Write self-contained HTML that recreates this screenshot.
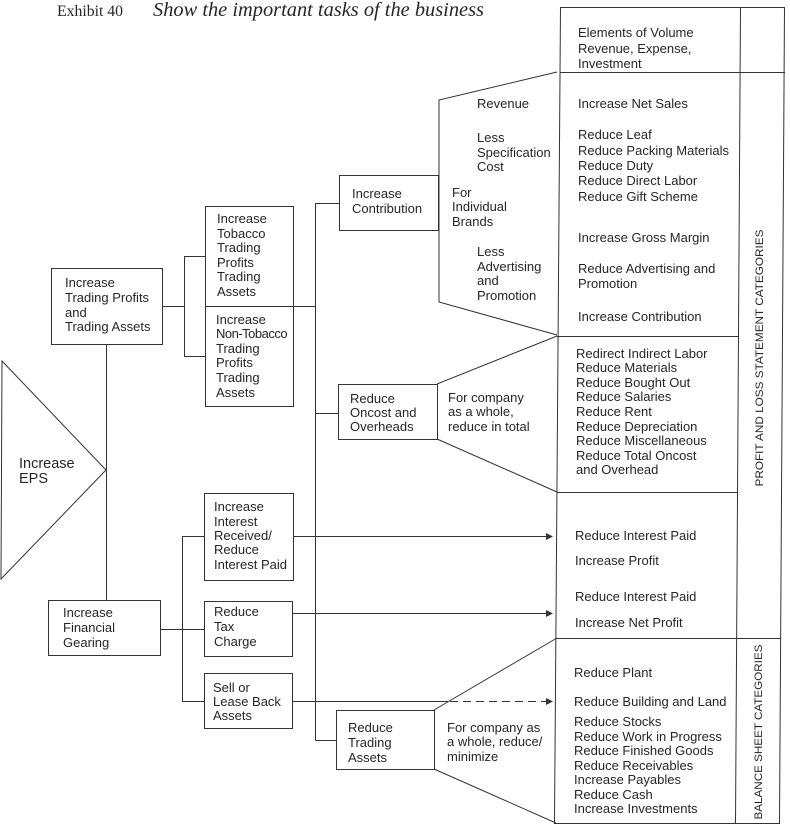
<!DOCTYPE html>
<html>
<head>
<meta charset="utf-8">
<style>
html,body{margin:0;padding:0;background:#fff;}
svg{display:block;}
text{font-family:"Liberation Sans",Arial,sans-serif;font-size:13px;fill:#262626;}
.t{font-family:"Liberation Serif",serif;}
</style>
</head>
<body>
<svg width="790" height="829" viewBox="0 0 790 829" xmlns="http://www.w3.org/2000/svg">
<g stroke="#333" stroke-width="1" fill="none">
  <!-- left structure -->
  <rect x="51.5" y="268.5" width="111" height="76"/>
  <line x1="106.5" y1="344" x2="106.5" y2="600"/>
  <polygon points="2,361 106,470 1,579"/>
  <rect x="48.5" y="600.5" width="112" height="55"/>
  <polyline points="162,306.5 184.5,306.5"/>
  <polyline points="205,256.5 184.5,256.5 184.5,356.5 205,356.5"/>
  <rect x="205.5" y="206.5" width="88" height="100"/>
  <rect x="205.5" y="306.5" width="88" height="100"/>
  <line x1="294" y1="306.5" x2="316" y2="306.5"/>
  <line x1="315.5" y1="203" x2="315.5" y2="740.5"/>
  <line x1="315.5" y1="203.5" x2="339" y2="203.5"/>
  <rect x="339.5" y="175.5" width="99" height="55"/>
  <line x1="315.5" y1="413.5" x2="338" y2="413.5"/>
  <rect x="338.5" y="384.5" width="99" height="55"/>
  <line x1="315.5" y1="740.5" x2="336" y2="740.5"/>
  <rect x="336.5" y="710.5" width="98" height="59"/>
  <!-- financial gearing bracket -->
  <line x1="160" y1="629.5" x2="204" y2="629.5"/>
  <polyline points="204,536.5 182.5,536.5 182.5,701.5 204,701.5"/>
  <rect x="204.5" y="493.5" width="89" height="87"/>
  <rect x="204.5" y="601.5" width="88" height="55"/>
  <rect x="204.5" y="673.5" width="88" height="55"/>
  <!-- arrows -->
  <line x1="293" y1="536.5" x2="547" y2="536.5"/>
  <line x1="292" y1="613.5" x2="547" y2="613.5"/>
  <line x1="292" y1="701.5" x2="448" y2="701.5"/>
  <line x1="450" y1="701.5" x2="547" y2="701.5" stroke-dasharray="8,5"/>
  <!-- trapezoids -->
  <polyline points="557,72 439,100 439,302 557,335"/>
  <polyline points="557,336 437,384"/>
  <polyline points="437,439 557,492"/>
  <polyline points="557,638 434,710"/>
  <polyline points="434,769 556,823"/>
  <!-- right column (slightly skewed like scan) -->
  <line x1="561" y1="7.5" x2="785" y2="7.5"/>
  <line x1="560.5" y1="7" x2="554.5" y2="823"/>
  <line x1="740.5" y1="7" x2="735.5" y2="823"/>
  <line x1="784.5" y1="7" x2="779.5" y2="823"/>
  <line x1="554" y1="823.5" x2="780" y2="823.5"/>
  <line x1="560" y1="72.5" x2="785" y2="72.5"/>
  <line x1="557" y1="336.5" x2="739" y2="336.5"/>
  <line x1="557" y1="492.5" x2="738" y2="492.5"/>
  <line x1="556" y1="638.5" x2="781" y2="638.5"/>
</g>
<g fill="#333">
  <polygon points="546,533 553,536.5 546,540"/>
  <polygon points="546,610 553,613.5 546,617"/>
  <polygon points="546,698 553,701.5 546,705"/>
</g>

<!-- title -->
<text class="t" x="57" y="16" style="font-size:16px" textLength="66" lengthAdjust="spacingAndGlyphs">Exhibit 40</text>
<text class="t" x="153" y="16" style="font-size:20px;font-style:italic" textLength="331" lengthAdjust="spacingAndGlyphs">Show the important tasks of the business</text>

<!-- EPS -->
<text x="19" y="468" style="font-size:14.5px">Increase</text>
<text x="19" y="483" style="font-size:14.5px">EPS</text>

<!-- trading profits -->
<text x="65" y="287">Increase</text>
<text x="65" y="302">Trading Profits</text>
<text x="65" y="317">and</text>
<text x="65" y="331">Trading Assets</text>

<text x="217" y="223">Increase</text>
<text x="217" y="238">Tobacco</text>
<text x="217" y="252">Trading</text>
<text x="217" y="267">Profits</text>
<text x="217" y="281">Trading</text>
<text x="217" y="296">Assets</text>

<text x="216" y="324">Increase</text>
<text x="216" y="338" style="letter-spacing:-0.5px">Non-Tobacco</text>
<text x="216" y="353">Trading</text>
<text x="216" y="367">Profits</text>
<text x="216" y="382">Trading</text>
<text x="216" y="397">Assets</text>

<!-- financial gearing -->
<text x="63" y="617">Increase</text>
<text x="63" y="632">Financial</text>
<text x="63" y="647">Gearing</text>

<text x="214" y="511">Increase</text>
<text x="214" y="526">Interest</text>
<text x="214" y="540">Received/</text>
<text x="214" y="554">Reduce</text>
<text x="214" y="569">Interest Paid</text>

<text x="214" y="616">Reduce</text>
<text x="214" y="631">Tax</text>
<text x="214" y="646">Charge</text>

<text x="213" y="692">Sell or</text>
<text x="213" y="706">Lease Back</text>
<text x="213" y="720">Assets</text>

<!-- level 3 boxes -->
<text x="352" y="198">Increase</text>
<text x="352" y="213">Contribution</text>

<text x="350" y="403">Reduce</text>
<text x="350" y="417">Oncost and</text>
<text x="350" y="431">Overheads</text>

<text x="348" y="732">Reduce</text>
<text x="348" y="747">Trading</text>
<text x="348" y="762">Assets</text>

<!-- trapezoid texts -->
<text x="477" y="108">Revenue</text>
<text x="477" y="142">Less</text>
<text x="477" y="157">Specification</text>
<text x="477" y="171">Cost</text>
<text x="452" y="197">For</text>
<text x="452" y="211">Individual</text>
<text x="452" y="226">Brands</text>
<text x="477" y="256">Less</text>
<text x="477" y="271">Advertising</text>
<text x="477" y="285">and</text>
<text x="477" y="300">Promotion</text>

<text x="448" y="402">For company</text>
<text x="448" y="416">as a whole,</text>
<text x="448" y="431">reduce in total</text>

<text x="447" y="732">For company as</text>
<text x="447" y="746">a whole, reduce/</text>
<text x="447" y="761">minimize</text>

<!-- right column -->
<text x="578" y="37">Elements of Volume</text>
<text x="578" y="53">Revenue, Expense,</text>
<text x="578" y="68">Investment</text>

<text x="578" y="108">Increase Net Sales</text>
<text x="578" y="139">Reduce Leaf</text>
<text x="578" y="155">Reduce Packing Materials</text>
<text x="578" y="170">Reduce Duty</text>
<text x="578" y="185">Reduce Direct Labor</text>
<text x="578" y="201">Reduce Gift Scheme</text>
<text x="578" y="242">Increase Gross Margin</text>
<text x="578" y="273">Reduce Advertising and</text>
<text x="578" y="288">Promotion</text>
<text x="578" y="321">Increase Contribution</text>

<text x="576" y="358">Redirect Indirect Labor</text>
<text x="576" y="372">Reduce Materials</text>
<text x="576" y="387">Reduce Bought Out</text>
<text x="576" y="401">Reduce Salaries</text>
<text x="576" y="416">Reduce Rent</text>
<text x="576" y="431">Reduce Depreciation</text>
<text x="576" y="445">Reduce Miscellaneous</text>
<text x="576" y="460">Reduce Total Oncost</text>
<text x="576" y="474">and Overhead</text>

<text x="575" y="540">Reduce Interest Paid</text>
<text x="575" y="565">Increase Profit</text>
<text x="575" y="601">Reduce Interest Paid</text>
<text x="575" y="627">Increase Net Profit</text>

<text x="574" y="677">Reduce Plant</text>
<text x="574" y="706">Reduce Building and Land</text>
<text x="574" y="726">Reduce Stocks</text>
<text x="574" y="741">Reduce Work in Progress</text>
<text x="574" y="755">Reduce Finished Goods</text>
<text x="574" y="770">Reduce Receivables</text>
<text x="574" y="784">Increase Payables</text>
<text x="574" y="799">Reduce Cash</text>
<text x="574" y="813">Increase Investments</text>

<!-- vertical category labels -->
<text transform="translate(763,358) rotate(-90)" text-anchor="middle" style="font-size:11px" textLength="257" lengthAdjust="spacingAndGlyphs">PROFIT AND LOSS STATEMENT CATEGORIES</text>
<text transform="translate(762,732) rotate(-90)" text-anchor="middle" style="font-size:11px" textLength="175" lengthAdjust="spacingAndGlyphs">BALANCE SHEET CATEGORIES</text>
</svg>
</body>
</html>
